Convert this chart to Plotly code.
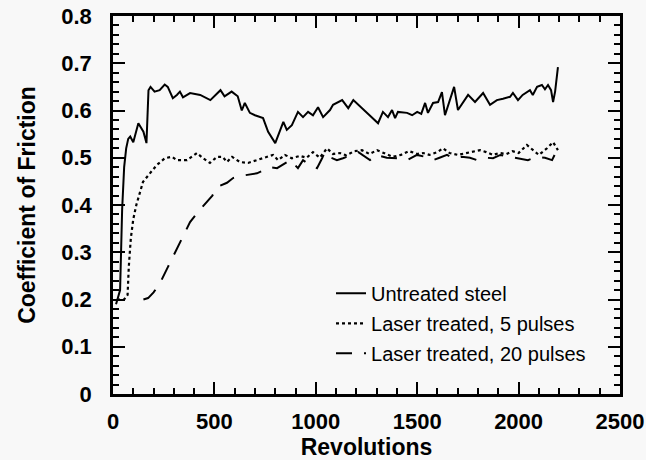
import plotly.graph_objects as go

# Untreated steel
steel_x = [15, 35, 45, 55, 65, 75, 85, 100, 125, 150, 165, 175, 185, 205, 230, 255, 270, 295, 315, 330,
           345, 380, 430, 480, 530, 550, 585, 615, 635, 650, 675, 700, 740, 765, 800, 815, 840, 857, 882, 912,
           937, 962, 986, 1011, 1036, 1070, 1085, 1130, 1160, 1185, 1210, 1243, 1277, 1307, 1331, 1356, 1376, 1391, 1405, 1450,
           1475, 1500, 1520, 1539, 1553, 1578, 1603, 1622, 1637, 1662, 1682, 1701, 1726, 1751, 1785, 1825, 1859, 1893, 1923, 1958,
           1972, 1997, 2020, 2056, 2070, 2091, 2115, 2130, 2145, 2160, 2170, 2180, 2194]
steel_y = [0.19, 0.22, 0.39, 0.48, 0.52, 0.54, 0.545, 0.533, 0.573, 0.555, 0.531, 0.643, 0.65, 0.64, 0.643, 0.655, 0.65, 0.626, 0.633, 0.64,
           0.628, 0.637, 0.633, 0.622, 0.643, 0.63, 0.64, 0.63, 0.60, 0.616, 0.595, 0.59, 0.584, 0.555, 0.531, 0.548, 0.576, 0.559, 0.569, 0.597,
           0.586, 0.597, 0.59, 0.607, 0.586, 0.601, 0.612, 0.622, 0.605, 0.622, 0.612, 0.597, 0.584, 0.573, 0.597, 0.586, 0.601, 0.584, 0.597, 0.595,
           0.59, 0.597, 0.593, 0.616, 0.595, 0.616, 0.618, 0.639, 0.59, 0.622, 0.65, 0.601, 0.616, 0.633, 0.618, 0.637, 0.612, 0.622, 0.625, 0.629,
           0.637, 0.622, 0.633, 0.643, 0.633, 0.65, 0.654, 0.645, 0.654, 0.643, 0.618, 0.64, 0.692]

# Laser treated, 5 pulses
p5_x = [20, 55, 72, 78, 88, 100, 115, 133, 148, 182, 217, 256, 291, 315, 365, 414, 444, 478, 513, 540,
        562, 587, 626, 666, 710, 750, 789, 814, 848, 882, 922, 955, 986, 1020, 1055, 1085, 1119, 1150, 1190, 1228,
        1265, 1302, 1340, 1380, 1420, 1460, 1500, 1529, 1560, 1600, 1627, 1660, 1700, 1740, 1775, 1810, 1840, 1874, 1905, 1940,
        1970, 2000, 2041, 2070, 2100, 2140, 2170, 2194]
p5_y = [0.2, 0.2, 0.21, 0.27, 0.33, 0.37, 0.40, 0.425, 0.449, 0.467, 0.485, 0.499, 0.502, 0.495, 0.495, 0.51, 0.499, 0.489, 0.502, 0.502,
        0.491, 0.502, 0.491, 0.489, 0.495, 0.502, 0.506, 0.495, 0.506, 0.499, 0.504, 0.5, 0.512, 0.5, 0.52, 0.508, 0.51, 0.505, 0.514, 0.516,
        0.508, 0.516, 0.51, 0.502, 0.506, 0.514, 0.508, 0.51, 0.506, 0.512, 0.52, 0.51, 0.506, 0.51, 0.512, 0.516, 0.512, 0.506, 0.51, 0.508,
        0.514, 0.51, 0.527, 0.516, 0.506, 0.52, 0.533, 0.516]

# Laser treated, 20 pulses
p20_x = [150, 173, 200, 232, 271, 306, 345, 380, 419, 463, 490, 513, 562, 592, 651, 710, 774, 809, 838, 875,
         912, 937, 970, 1006, 1031, 1045, 1075, 1104, 1134, 1178, 1210, 1267, 1300, 1350, 1400, 1450, 1499, 1540, 1578, 1610,
         1647, 1677, 1720, 1760, 1795, 1840, 1874, 1910, 1960, 2000, 2046, 2090, 2130, 2165, 2189]
p20_y = [0.2, 0.203, 0.215, 0.235, 0.269, 0.30, 0.332, 0.364, 0.385, 0.406, 0.42, 0.438, 0.447, 0.457, 0.463, 0.467, 0.48, 0.478, 0.485, 0.495,
         0.478, 0.495, 0.485, 0.478, 0.499, 0.512, 0.5, 0.495, 0.499, 0.506, 0.512, 0.495, 0.506, 0.5, 0.499, 0.495, 0.506, 0.502, 0.495, 0.5,
         0.506, 0.499, 0.502, 0.5, 0.495, 0.5, 0.499, 0.506, 0.502, 0.5, 0.495, 0.502, 0.5, 0.495, 0.516]

series_names = ["Untreated steel", "Laser treated, 5 pulses", "Laser treated, 20 pulses"]
x_ticks = [0, 500, 1000, 1500, 2000, 2500]
y_ticks = [0, 0.1, 0.2, 0.3, 0.4, 0.5, 0.6, 0.7, 0.8]
y_tick_labels = ["0", "0.1", "0.2", "0.3", "0.4", "0.5", "0.6", "0.7", "0.8"]

fig = go.Figure()
fig.add_trace(go.Scatter(x=steel_x, y=steel_y, mode="lines", name=series_names[0], legendgroup="a",
                         line=dict(color="black", width=2, dash="solid")))
fig.add_trace(go.Scatter(x=p5_x, y=p5_y, mode="lines", name=series_names[1], legendgroup="b",
                         line=dict(color="black", width=2.2, dash="3px,3px")))
fig.add_trace(go.Scatter(x=p20_x, y=p20_y, mode="lines", name=series_names[2], legendgroup="c",
                         line=dict(color="black", width=2, dash="16px,12px")))

FAM = "Liberation Sans, Arial, sans-serif"
tick_font = dict(family=FAM, size=22, color="black", weight="bold")
title_font = dict(family=FAM, size=23, color="black", weight="bold")

fig.update_layout(
    width=646, height=460,
    margin=dict(l=113, r=26, t=16, b=66, autoexpand=False),
    paper_bgcolor="#f8f8f8", plot_bgcolor="#f8f8f8",
    showlegend=True,
    legend=dict(x=0.43, y=0.318, xanchor="left", yanchor="top",
                bgcolor="rgba(0,0,0,0)", borderwidth=0,
                font=dict(family=FAM, size=20, color="black"),
                tracegroupgap=1, itemwidth=30),
    xaxis=dict(range=[0, 2500], tickvals=x_ticks, ticktext=[str(v) for v in x_ticks], automargin=False,
               showgrid=False, zeroline=False, showline=True, linecolor="black", linewidth=2.5,
               mirror="allticks", ticks="inside", ticklen=12, tickwidth=2, tickcolor="black",
               minor=dict(dtick=100, ticks="inside", ticklen=6, tickwidth=1.5, tickcolor="black", showgrid=False),
               tickfont=tick_font, ticklabelstandoff=6,
               title=dict(text="Revolutions", font=title_font, standoff=0)),
    yaxis=dict(range=[0, 0.8], tickvals=y_ticks, ticktext=y_tick_labels, automargin=False,
               showgrid=False, zeroline=False, showline=True, linecolor="black", linewidth=2.5,
               mirror="allticks", ticks="inside", ticklen=12, tickwidth=2, tickcolor="black",
               minor=dict(dtick=0.02, ticks="inside", ticklen=6, tickwidth=1.5, tickcolor="black", showgrid=False),
               tickfont=tick_font, ticklabelstandoff=14,
               title=dict(text="Coefficient of Friction", font=title_font, standoff=20)),
)

fig.write_html("out.html")
